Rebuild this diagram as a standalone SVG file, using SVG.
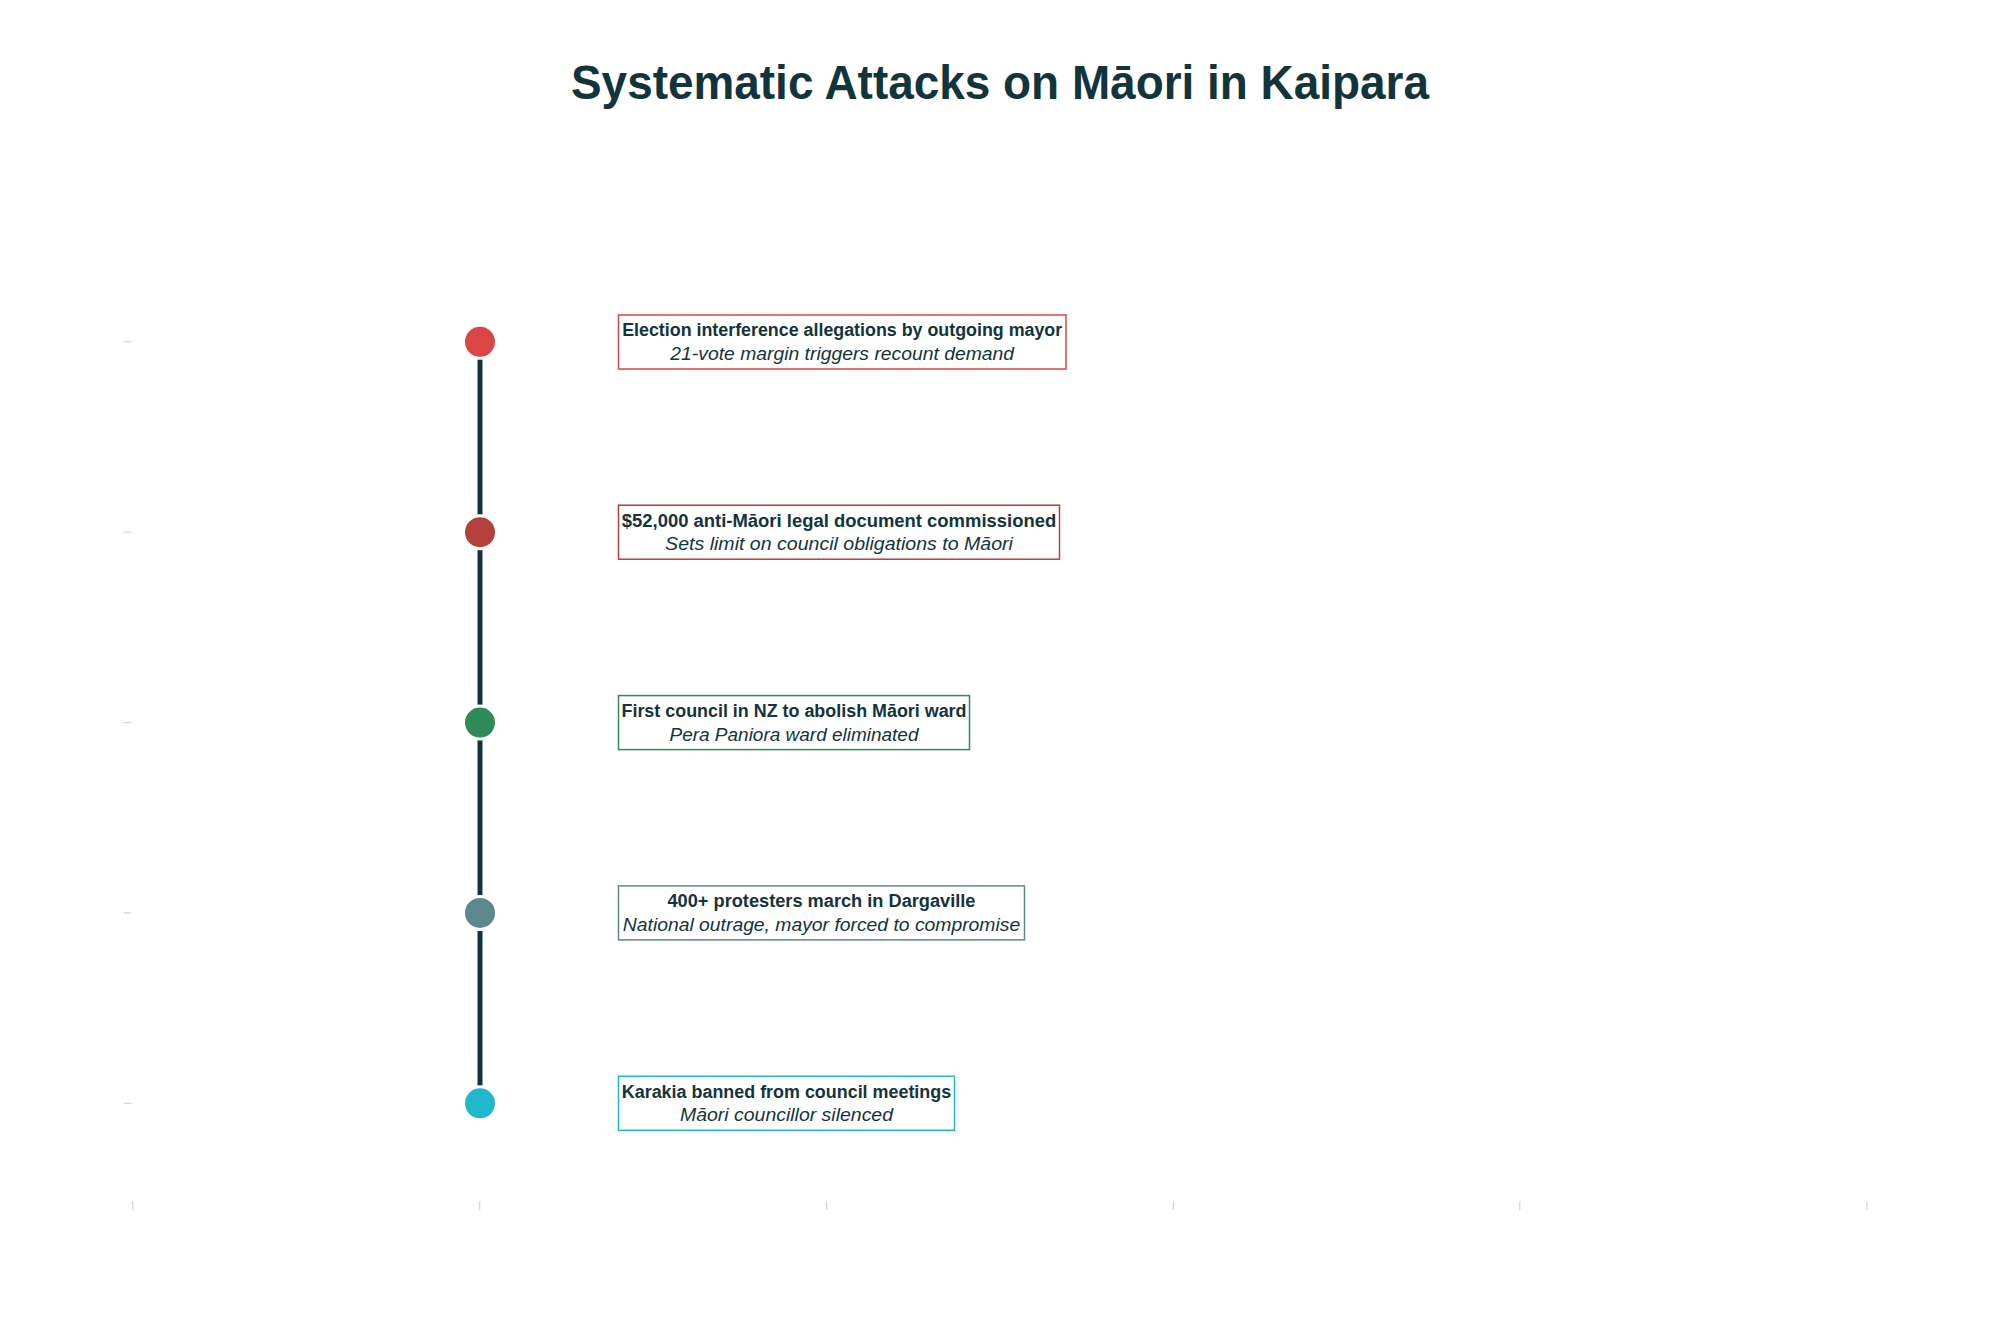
<svg xmlns="http://www.w3.org/2000/svg" width="2000" height="1333" viewBox="0 0 2000 1333">
<style>
  .title { font-family: "Liberation Sans", Arial, sans-serif; font-weight: bold; font-size: 48px; fill: #13343B; }
  .head { font-family: "Liberation Sans", Arial, sans-serif; font-weight: bold; font-size: 18px; fill: #13343B; }
  .sub { font-family: "Liberation Sans", Arial, sans-serif; font-style: italic; font-size: 18px; fill: #13343B; }
  .box { fill: #FFFFFF; stroke-width: 1.5; }
  .dot { stroke: #FFFFFF; stroke-width: 3; }
  .tick { stroke: #D4D4D4; stroke-width: 1.2; }
  .conn { stroke: #13343B; stroke-width: 5; fill: none; }
</style>
<rect width="2000" height="1333" fill="#FFFFFF"/>
<text class="title" x="1000" y="99" text-anchor="middle" textLength="858" lengthAdjust="spacingAndGlyphs">Systematic Attacks on Māori in Kaipara</text>

<g id="axes">
  <line class="tick" x1="132.7" y1="1201" x2="132.7" y2="1210"/>
  <line class="tick" x1="479.7" y1="1201" x2="479.7" y2="1210"/>
  <line class="tick" x1="826.6" y1="1201" x2="826.6" y2="1210"/>
  <line class="tick" x1="1173.4" y1="1201" x2="1173.4" y2="1210"/>
  <line class="tick" x1="1519.8" y1="1201" x2="1519.8" y2="1210"/>
  <line class="tick" x1="1866.9" y1="1201" x2="1866.9" y2="1210"/>
  <line class="tick" x1="123.5" y1="341.8" x2="131.5" y2="341.8"/>
  <line class="tick" x1="123.5" y1="532.2" x2="131.5" y2="532.2"/>
  <line class="tick" x1="123.5" y1="722.6" x2="131.5" y2="722.6"/>
  <line class="tick" x1="123.5" y1="912.9" x2="131.5" y2="912.9"/>
  <line class="tick" x1="123.5" y1="1103.3" x2="131.5" y2="1103.3"/>
</g>

<g id="connectors">
  <line class="conn" x1="480" y1="341.8" x2="480" y2="532.2"/>
  <line class="conn" x1="480" y1="532.2" x2="480" y2="722.6"/>
  <line class="conn" x1="480" y1="722.6" x2="480" y2="912.9"/>
  <line class="conn" x1="480" y1="912.9" x2="480" y2="1103.3"/>
</g>

<g id="event1">
  <circle class="dot" cx="480" cy="341.8" r="16.5" fill="#DB4545"/>
  <rect class="box" x="618.5" y="315" width="447.5" height="54" stroke="#DB4545"/>
  <text class="head" x="842.2" y="336.3" text-anchor="middle" textLength="440" lengthAdjust="spacingAndGlyphs">Election interference allegations by outgoing mayor</text>
  <text class="sub" x="842.2" y="359.8" text-anchor="middle" textLength="343.7" lengthAdjust="spacingAndGlyphs">21-vote margin triggers recount demand</text>
</g>

<g id="event2">
  <circle class="dot" cx="480" cy="532.2" r="16.5" fill="#B4413C"/>
  <rect class="box" x="618.5" y="505.2" width="441" height="54" stroke="#B4413C"/>
  <text class="head" x="839" y="526.7" text-anchor="middle" textLength="434.4" lengthAdjust="spacingAndGlyphs">$52,000 anti-Māori legal document commissioned</text>
  <text class="sub" x="839" y="550.2" text-anchor="middle" textLength="347.8" lengthAdjust="spacingAndGlyphs">Sets limit on council obligations to Māori</text>
</g>

<g id="event3">
  <circle class="dot" cx="480" cy="722.6" r="16.5" fill="#2E8B57"/>
  <rect class="box" x="618.5" y="695.6" width="351" height="54" stroke="#2E8B57"/>
  <text class="head" x="794" y="717.1" text-anchor="middle" textLength="345" lengthAdjust="spacingAndGlyphs">First council in NZ to abolish Māori ward</text>
  <text class="sub" x="794" y="740.6" text-anchor="middle" textLength="249" lengthAdjust="spacingAndGlyphs">Pera Paniora ward eliminated</text>
</g>

<g id="event4">
  <circle class="dot" cx="480" cy="912.9" r="16.5" fill="#5D878F"/>
  <rect class="box" x="618.5" y="885.9" width="406" height="54" stroke="#5D878F"/>
  <text class="head" x="821.5" y="907.4" text-anchor="middle" textLength="308" lengthAdjust="spacingAndGlyphs">400+ protesters march in Dargaville</text>
  <text class="sub" x="821.5" y="930.9" text-anchor="middle" textLength="397.3" lengthAdjust="spacingAndGlyphs">National outrage, mayor forced to compromise</text>
</g>

<g id="event5">
  <circle class="dot" cx="480" cy="1103.3" r="16.5" fill="#1FB8CD"/>
  <rect class="box" x="618.5" y="1076.3" width="336" height="54" stroke="#1FB8CD"/>
  <text class="head" x="786.5" y="1097.8" text-anchor="middle" textLength="329.4" lengthAdjust="spacingAndGlyphs">Karakia banned from council meetings</text>
  <text class="sub" x="786.5" y="1121.3" text-anchor="middle" textLength="213" lengthAdjust="spacingAndGlyphs">Māori councillor silenced</text>
</g>
</svg>
